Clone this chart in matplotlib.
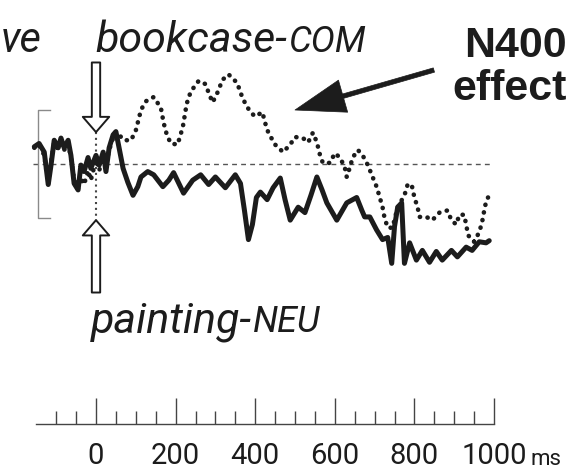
import matplotlib
matplotlib.use("Agg")
import matplotlib.pyplot as plt
from matplotlib.ticker import FixedLocator

plt.rcParams['font.family'] = ['Roboto', 'DejaVu Sans']

# ERP at one electrode, negative up (ms, µV)
t_neu = [-155, -143, -130, -120, -113, -105, -95, -88, -80, -70,
         -63, -55, -45, -38, -30, -20, -13, 0, 8, 18,
         25, 33, 43, 50, 58, 68, 80, 93, 105, 113,
         130, 145, 168, 183, 195, 220, 243, 263, 283, 300,
         325, 350, 363, 373, 383, 393, 403, 413, 430, 445,
         463, 475, 488, 508, 525, 540, 555, 568, 580, 605,
         630, 655, 668, 675, 688, 705, 720, 733, 743, 750,
         758, 768, 775, 788, 805, 820, 838, 855, 870, 893,
         908, 930, 945, 963, 980, 988]
v_neu = [-1.6, -1.9, -1.1, 1.9, 0.1, -2.2, -1.5, -2.4, -1.5, -2.2,
         -0.8, 1.8, 2.4, 0.1, 0.7, -0.6, 0.4, -0.8, 0.1, -1.1,
         0.7, -1.5, -2.7, -3.0, -1.5, 0.4, 1.7, 2.9, 2.1, 1.2,
         0.7, 1.0, 2.1, 1.5, 0.8, 2.7, 1.5, 1.0, 1.9, 1.2,
         2.2, 1.0, 1.8, 4.3, 7.0, 5.6, 3.1, 2.6, 3.3, 2.2,
         1.3, 3.3, 5.2, 4.0, 4.5, 2.9, 1.2, 2.4, 3.6, 5.2,
         3.6, 3.1, 4.3, 4.9, 4.9, 6.1, 7.0, 6.8, 9.2, 5.8,
         4.0, 3.6, 9.2, 7.3, 8.9, 8.0, 9.1, 8.1, 8.9, 8.0,
         8.6, 7.7, 8.0, 7.2, 7.3, 7.1]

t_com = [-155, -143, -130, -120, -113, -105, -95, -88, -80, -70,
         -63, -55, -45, -38, -30, -20, -13, 0, 8, 18,
         25, 33, 43, 50, 58, 70, 88, 100, 113, 125,
         145, 163, 170, 178, 188, 205, 218, 228, 238, 258,
         275, 283, 293, 305, 318, 333, 355, 363, 375, 388,
         400, 418, 425, 433, 450, 470, 488, 500, 520, 533,
         545, 555, 563, 570, 588, 600, 613, 625, 630, 638,
         645, 658, 670, 683, 695, 705, 713, 720, 725, 733,
         745, 758, 775, 783, 793, 800, 808, 813, 830, 845,
         863, 883, 893, 905, 913, 925, 930, 935, 950, 963,
         970, 975, 980, 985]
v_com = [-1.5, -1.8, -0.8, 1.8, -0.2, -2.0, -1.3, -2.2, -1.3, -1.9,
         -0.6, 1.5, 2.0, 1.3, 1.9, 0.6, 1.5, -0.4, 0.6, -0.6,
         0.1, -1.3, -2.4, -3.0, -2.7, -2.2, -2.2, -3.1, -5.0, -5.8,
         -6.2, -5.2, -3.8, -2.7, -1.9, -1.8, -3.4, -5.6, -6.7, -7.7,
         -7.4, -6.6, -5.7, -6.6, -7.8, -8.3, -7.5, -6.6, -5.6, -4.8,
         -4.4, -4.8, -3.8, -2.9, -1.8, -1.1, -1.8, -2.5, -2.4, -2.0,
         -2.9, -2.0, -0.8, -0.1, -0.1, -1.0, -0.6, 0.3, 1.2, 0.3,
         -0.6, -1.3, -0.8, 0.1, 1.2, 2.1, 3.1, 4.0, 5.0, 5.9,
         5.9, 4.0, 2.9, 1.9, 1.9, 3.1, 4.0, 4.9, 4.9, 5.2,
         4.5, 4.3, 5.2, 5.6, 4.7, 4.7, 5.6, 6.6, 7.2, 6.3,
         5.4, 4.4, 3.5, 3.1]

major_ticks = [0, 200, 400, 600, 800, 1000]
tick_labels = ['0', '200', '400', '600', '800', '1000']

# figure geometry in pixels
W, H = 572, 470
X0, PX_MS = 96, 0.398     # pixel of stimulus onset, pixels per ms
Y0, PX_UV = 164, 10.8     # pixel of 0 µV, pixels per µV
AXIS_Y = 424              # pixel row of the time scale

ink = '#1c1c1c'
xlim = (-X0 / PX_MS, (W - X0) / PX_MS)

fig = plt.figure(figsize=(W / 100, H / 100), dpi=100)
ax = fig.add_axes([0, 0, 1, 1])
ax.set_xlim(*xlim)
ax.set_ylim((H - Y0) / PX_UV, -Y0 / PX_UV)   # negative up
ax.axis('off')

# baseline and onset marker
ax.hlines(0, -158, 995, color='#555555', lw=1.0, linestyles=(0, (3.5, 3)))
ax.vlines(0, -3.0, 5.2, color='#444444', lw=1.5, linestyles=(0, (1, 1.8)))

# calibration bracket (±5 µV)
ax.plot([-116, -146, -146, -116], [-5, -5, 5, 5], color='#8a8a8a', lw=1.0)

# waveforms
ax.plot(t_com, v_com, color=ink, lw=3.3, ls=(0, (0.05, 1.65)),
        dash_capstyle='round', solid_joinstyle='round')
ax.plot(t_neu, v_neu, color=ink, lw=3.6, solid_joinstyle='round',
        solid_capstyle='round')

# hollow arrows at stimulus onset
hollow = dict(arrowstyle='simple,head_length=1.1,head_width=1.9,tail_width=0.6',
              mutation_scale=10, fc='white', ec=ink, lw=1.4,
              shrinkA=0, shrinkB=0)
ax.annotate('', xy=(0, -2.95), xytext=(0, -9.4), arrowprops=hollow)
ax.annotate('', xy=(0, 5.2), xytext=(0, 11.9), arrowprops=hollow)

# N400 arrow
ax.annotate('', xy=(500, -5.0), xytext=(849, -8.7),
            arrowprops=dict(arrowstyle='simple,head_length=3.6,head_width=2.4,tail_width=0.32',
                            mutation_scale=10, fc=ink, ec=ink, lw=0.5,
                            shrinkA=0, shrinkB=0))


def ftext(x, y, s, **kw):
    return fig.text(x / W, 1 - y / H, s, va='baseline', color=ink, **kw)


ftext(1, 52, 've', ha='left', fontsize=30, style='italic')
b = ftext(95, 52, 'bookcase-', ha='left', fontsize=31, style='italic')
p = ftext(91, 332, 'painting-', ha='left', fontsize=31, style='italic')

ftext(567, 57, 'N400', ha='right', fontsize=31, fontweight='bold',
      family=['Liberation Sans', 'DejaVu Sans'])
ftext(567, 100, 'effect', ha='right', fontsize=31, fontweight='bold',
      family=['Liberation Sans', 'DejaVu Sans'])

# time scale
ax_t = fig.add_axes([0, (H - AXIS_Y) / H, 1, 0.05])
ax_t.set_xlim(*xlim)
ax_t.patch.set_visible(False)
for side in ('top', 'left', 'right'):
    ax_t.spines[side].set_visible(False)
ax_t.spines['bottom'].set_bounds(-150, 1000)
ax_t.spines['bottom'].set_color('#444444')
ax_t.spines['bottom'].set_linewidth(1.0)
ax_t.yaxis.set_visible(False)
ax_t.xaxis.set_major_locator(FixedLocator(major_ticks))
ax_t.set_xticklabels(tick_labels)
ax_t.xaxis.set_minor_locator(FixedLocator([m for m in range(-100, 1000, 50)
                                           if m not in major_ticks]))
ax_t.tick_params(axis='x', which='major', direction='in', length=18.7,
                 width=1.0, color='#444444', pad=13, labelsize=21,
                 labelcolor=ink)
ax_t.tick_params(axis='x', which='minor', direction='in', length=9.4,
                 width=1.0, color='#444444')
ftext(530, 465, 'ms', ha='left', fontsize=16)

fig.canvas.draw()
# small-caps suffixes follow the italic words
for word, suffix in ((b, 'COM'), (p, 'NEU')):
    bb = word.get_window_extent()
    fig.text((bb.x1 + 1) / W, word.get_position()[1], suffix, fontsize=26,
             style='italic', color=ink, ha='left', va='baseline')

fig.savefig('out.png', dpi=100)
